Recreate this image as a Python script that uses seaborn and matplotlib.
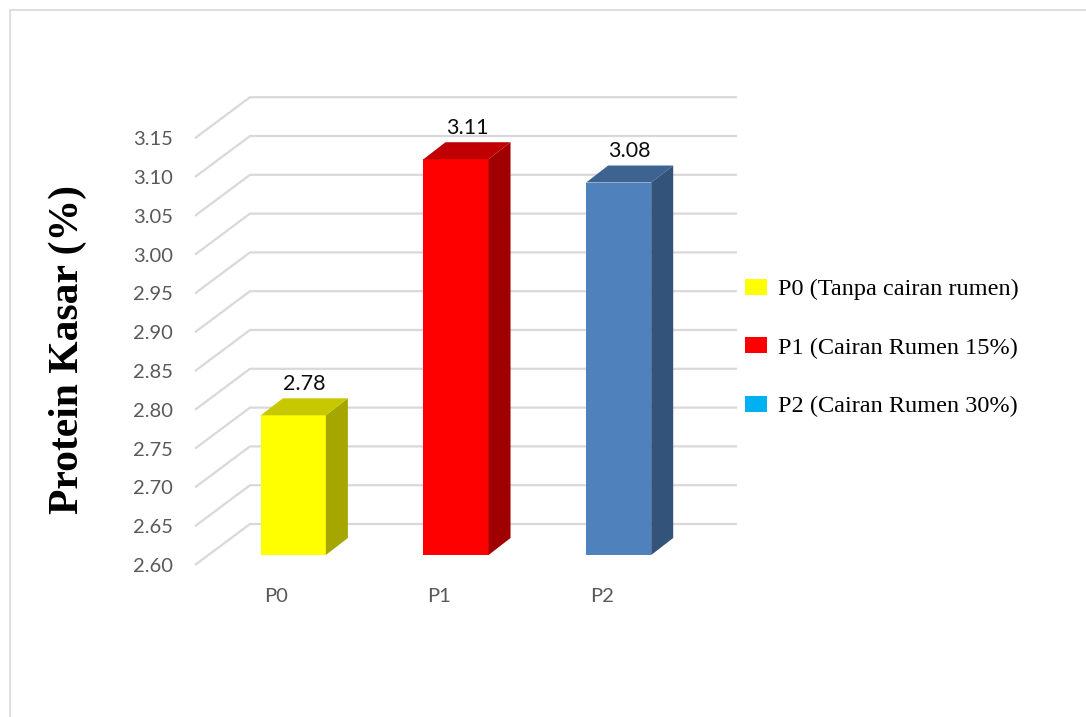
import matplotlib
matplotlib.use("Agg")
import matplotlib.pyplot as plt
import seaborn as sns
import pandas as pd
import numpy as np
from matplotlib.patches import Polygon, Patch, Rectangle
from matplotlib.transforms import ScaledTranslation

# ---- data ----
categories = ["P0", "P1", "P2"]
values = [2.78, 3.11, 3.08]
legend_labels = ["P0 (Tanpa cairan rumen)", "P1 (Cairan Rumen 15%)", "P2 (Cairan Rumen 30%)"]
y_ticks = [2.60, 2.65, 2.70, 2.75, 2.80, 2.85, 2.90, 2.95, 3.00, 3.05, 3.10, 3.15]
y_label = "Protein Kasar (%)"

front_colors = ["#FFFF00", "#FF0000", "#4F81BD"]
top_colors = ["#C8C800", "#C00000", "#3D6390"]
side_colors = ["#A6A600", "#A00000", "#33537A"]
legend_colors = ["#FFFF00", "#FF0000", "#00B0F0"]

sns.set_theme(style="white")
plt.rcParams["font.family"] = ["Lato", "DejaVu Sans"]

DPI = 100
W, H = 1086, 717
fig = plt.figure(figsize=(W / DPI, H / DPI), dpi=DPI)

# outer chart border (continues past right and bottom edges)
fig.patches.append(Rectangle((10 / W, -0.2), 1.2, 1.2 - 10 / H, transform=fig.transFigure,
                             fill=False, edgecolor="#D9D9D9", linewidth=1.2))

# bar plane axes (pixel geometry)
L, R, B, T = 212, 700, 555, 555 - 0.60 * 776
ax = fig.add_axes([L / W, (H - B) / H, (R - L) / W, (B - T) / H])
ax.set_xlim(-0.5, 2.5)
ax.set_ylim(2.60, 3.20)
ax.patch.set_alpha(0)
for s in ax.spines.values():
    s.set_visible(False)

sx = (R - L) / 3.0       # px per x unit
sy = (B - T) / 0.60      # px per y unit

df = pd.DataFrame({"cat": categories, "val": values})
sns.barplot(data=df, x="cat", y="val", hue="cat", palette=front_colors, width=0.4,
            legend=False, ax=ax, linewidth=0, saturation=1, zorder=3)
ax.set_xlim(-0.5, 2.5)
ax.set_ylim(2.60, 3.20)

# 3D depth for bars
ddx = 22 / sx
ddy = 17 / sy
for i, p in enumerate(ax.patches):
    x0 = p.get_x(); w = p.get_width(); top = p.get_y() + p.get_height()
    base = 2.60
    side = Polygon([(x0 + w, base), (x0 + w, top), (x0 + w + ddx, top + ddy), (x0 + w + ddx, base + ddy)],
                   closed=True, facecolor=side_colors[i], edgecolor="none", zorder=3, clip_on=False)
    topf = Polygon([(x0, top), (x0 + w, top), (x0 + w + ddx, top + ddy), (x0 + ddx, top + ddy)],
                   closed=True, facecolor=top_colors[i], edgecolor="none", zorder=3, clip_on=False)
    ax.add_patch(side); ax.add_patch(topf)
    ax.annotate(f"{values[i]:.2f}", xy=(x0 + w / 2, top), xytext=(11 * 0.72, 25.5 * 0.72),
                textcoords="offset points", ha="center", va="baseline",
                fontsize=15.5, color="#0D0D0D", zorder=5)

# 3D gridlines: front diagonal + back wall line
fx = -0.5 - 17 / sx
fy = -10 / sy
bx = -0.5 + 38 / sx
by = 31 / sy
rx = 2.5 + 37 / sx
for v in y_ticks:
    ax.plot([fx, bx, rx], [v + fy, v + by, v + by], color="#D9D9D9", linewidth=1.6,
            zorder=1, clip_on=False, solid_capstyle="butt")

# ticks
ax.set_yticks(y_ticks)
ax.set_yticklabels([f"{v:.2f}" for v in y_ticks])
ax.tick_params(axis="y", length=0, pad=39 * 0.72, labelsize=14.5, labelcolor="#595959")
ax.tick_params(axis="x", length=0, pad=33 * 0.72, labelsize=14.5, labelcolor="#595959")
ax.set_xlabel("")
ax.set_ylabel("")
for lab in ax.get_yticklabels():
    lab.set_transform(lab.get_transform() + ScaledTranslation(0, -10 / DPI, fig.dpi_scale_trans))
for lab in ax.get_xticklabels():
    lab.set_transform(lab.get_transform() + ScaledTranslation(-17 / DPI, 0, fig.dpi_scale_trans))

# y axis title
fig.text(68 / W, 1 - 349 / H, y_label, rotation=90, ha="center", va="center",
         fontsize=30, fontweight="bold", family=["Liberation Serif", "DejaVu Serif"], color="#000000")

# legend
handles = [Patch(facecolor=c, edgecolor="none") for c in legend_colors]
leg = fig.legend(handles, legend_labels, loc="upper left", bbox_to_anchor=(745 / W, 1 - 279 / H),
                 frameon=False, prop={"family": "Liberation Serif", "size": 17.5},
                 handlelength=0.9, handleheight=0.62, handletextpad=0.45, labelspacing=1.52,
                 borderaxespad=0, borderpad=0, labelcolor="#000000")

fig.savefig("out.png", dpi=DPI)
